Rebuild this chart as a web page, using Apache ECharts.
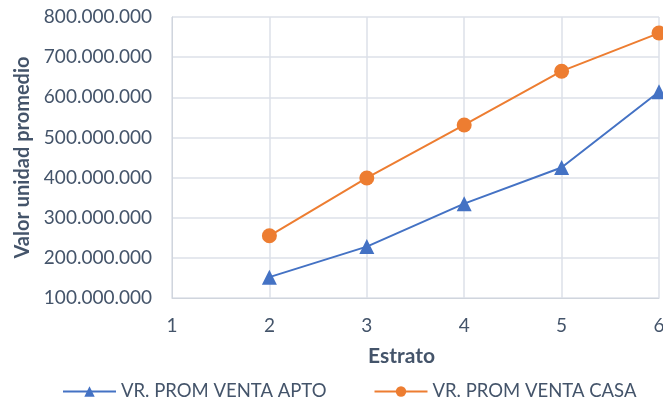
<!DOCTYPE html>
<html><head><meta charset="utf-8">
<script src="https://cdn.jsdelivr.net/npm/echarts@6/dist/echarts.min.js"></script>
<style>html,body{margin:0;padding:0;background:#fff}#c{width:663px;height:400px}</style>
</head><body><div id="c"></div>
<script>
const estratos = [2, 3, 4, 5, 6];
const apto = [152000000, 228000000, 335000000, 425000000, 614000000];
const casa = [255000000, 399000000, 531000000, 665000000, 760000000];
const seriesNames = ['VR. PROM VENTA APTO', 'VR. PROM VENTA CASA'];
const fmt = v => String(v).replace(/\B(?=(\d{3})+(?!\d))/g, '.');
const txt = '#44546A';
const font = 'Lato';
const chart = echarts.init(document.getElementById('c'), null, {renderer: 'canvas'});
chart.setOption({
  animation: false,
  textStyle: {fontFamily: font},
  grid: {left: 172, right: 4, top: 17, bottom: 102, containLabel: false, outerBoundsMode: 'none'},
  legend: {
    top: 377, left: 57, itemWidth: 53, itemHeight: 13, itemGap: 47,
    textStyle: {color: txt, fontSize: 18.5, fontFamily: font},
    data: seriesNames
  },
  xAxis: {
    type: 'value', min: 1, max: 6, interval: 1,
    name: 'Estrato', nameLocation: 'middle', nameGap: 48,
    nameTextStyle: {color: txt, fontSize: 21, fontWeight: 'bold', fontFamily: font, padding: [0, 28, 0, 0]},
    axisLine: {show: true, lineStyle: {color: '#D0D5DD', width: 1}},
    axisTick: {show: false},
    axisLabel: {color: txt, fontSize: 19, margin: 18, fontFamily: font},
    splitLine: {show: true, lineStyle: {color: '#DDE1E8', width: 1.5}}
  },
  yAxis: {
    type: 'value', min: 100000000, max: 800000000, interval: 100000000,
    name: 'Valor unidad promedio', nameLocation: 'middle', nameGap: 131,
    nameTextStyle: {color: txt, fontSize: 20, fontWeight: 'bold', fontFamily: font},
    axisLine: {show: true, lineStyle: {color: '#D0D5DD'}},
    axisTick: {show: false},
    axisLabel: {color: txt, fontSize: 19, margin: 20, fontFamily: font, formatter: fmt},
    splitLine: {show: true, lineStyle: {color: '#DDE1E8', width: 1.5}}
  },
  series: [
    {
      name: seriesNames[0], type: 'line',
      data: estratos.map((e, i) => [e, apto[i]]),
      symbol: 'triangle', symbolSize: 15,
      lineStyle: {color: '#4472C4', width: 2},
      itemStyle: {color: '#4472C4'}
    },
    {
      name: seriesNames[1], type: 'line',
      data: estratos.map((e, i) => [e, casa[i]]),
      symbol: 'circle', symbolSize: 15,
      lineStyle: {color: '#ED7D31', width: 2},
      itemStyle: {color: '#ED7D31'}
    }
  ]
});
</script>
</body></html>
